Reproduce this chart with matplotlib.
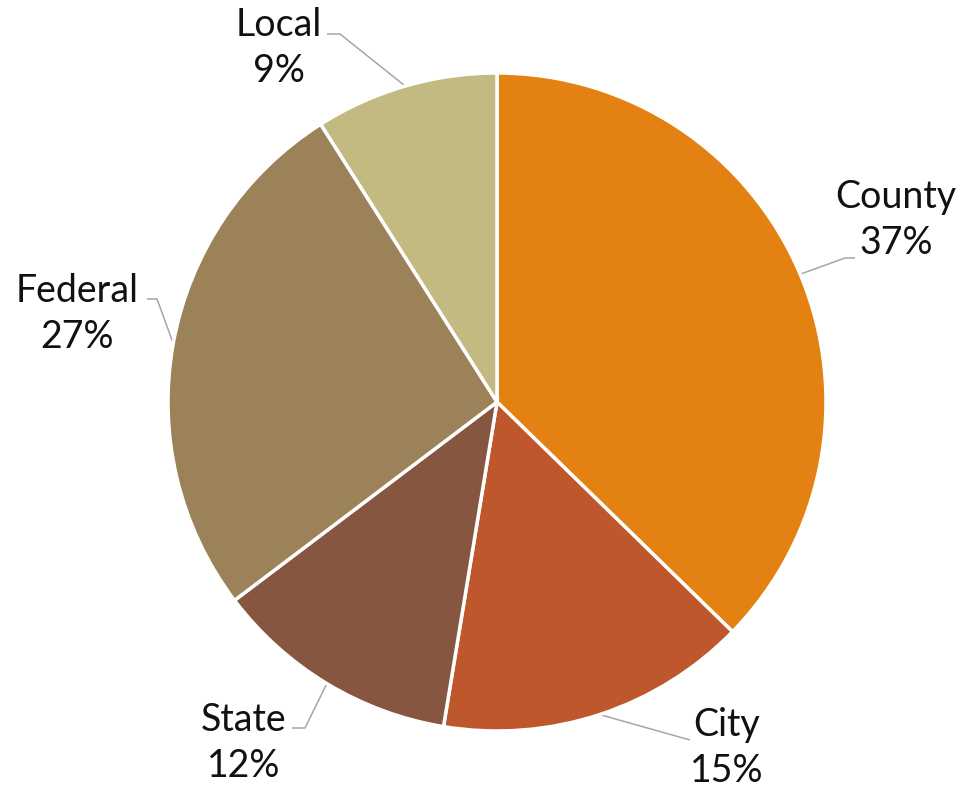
import numpy as np
import matplotlib.pyplot as plt

# data
labels = ["County", "City", "State", "Federal", "Local"]
values = [37.3, 15.3, 12.1, 26.3, 9.0]
pct_labels = ["37%", "15%", "12%", "27%", "9%"]
colors = ["#E38213", "#BE582C", "#875640", "#9C8259", "#C2BA80"]

W, H = 964, 794
fig = plt.figure(figsize=(W / 100, H / 100), dpi=100)
ax = fig.add_axes([0, 0, 1, 1])

cx, cy, r = 497, H - 402, 329
wedges, _ = ax.pie(values, colors=colors, startangle=90, counterclock=False,
                   center=(cx, cy), radius=r,
                   wedgeprops=dict(edgecolor="white", linewidth=2.5))
ax.set_xlim(0, W)
ax.set_ylim(0, H)
ax.set_aspect("equal")
ax.axis("off")

# label layout (pixels from top-left): text centre, elbow start, elbow end
layout = {
    "County": ((896, 220), (855, 258), (845, 258)),
    "City": ((727, 748), (690, 740), (690, 740)),
    "State": ((244, 743), (292, 728), (305, 728)),
    "Federal": ((77, 314), (147, 299), (157, 299)),
    "Local": ((279, 48), (327, 34), (340, 34)),
}

font = dict(family=["Lato", "DejaVu Sans"], fontsize=27, color="#111111")
for w, lab, pct in zip(wedges, labels, pct_labels):
    mid = np.deg2rad((w.theta1 + w.theta2) / 2)
    ex, ey = cx + r * np.cos(mid), cy + r * np.sin(mid)
    (tx, ty), (x1, y1), (x2, y2) = layout[lab]
    ax.plot([x1, x2, ex], [H - y1, H - y2, ey], color="#A6A6A6", lw=1.1,
            zorder=0, solid_capstyle="butt")
    ax.text(tx, H - ty, f"{lab}\n{pct}", ha="center", va="center",
            linespacing=1.35, **font)

fig.savefig("out.png", dpi=100, facecolor="white")
